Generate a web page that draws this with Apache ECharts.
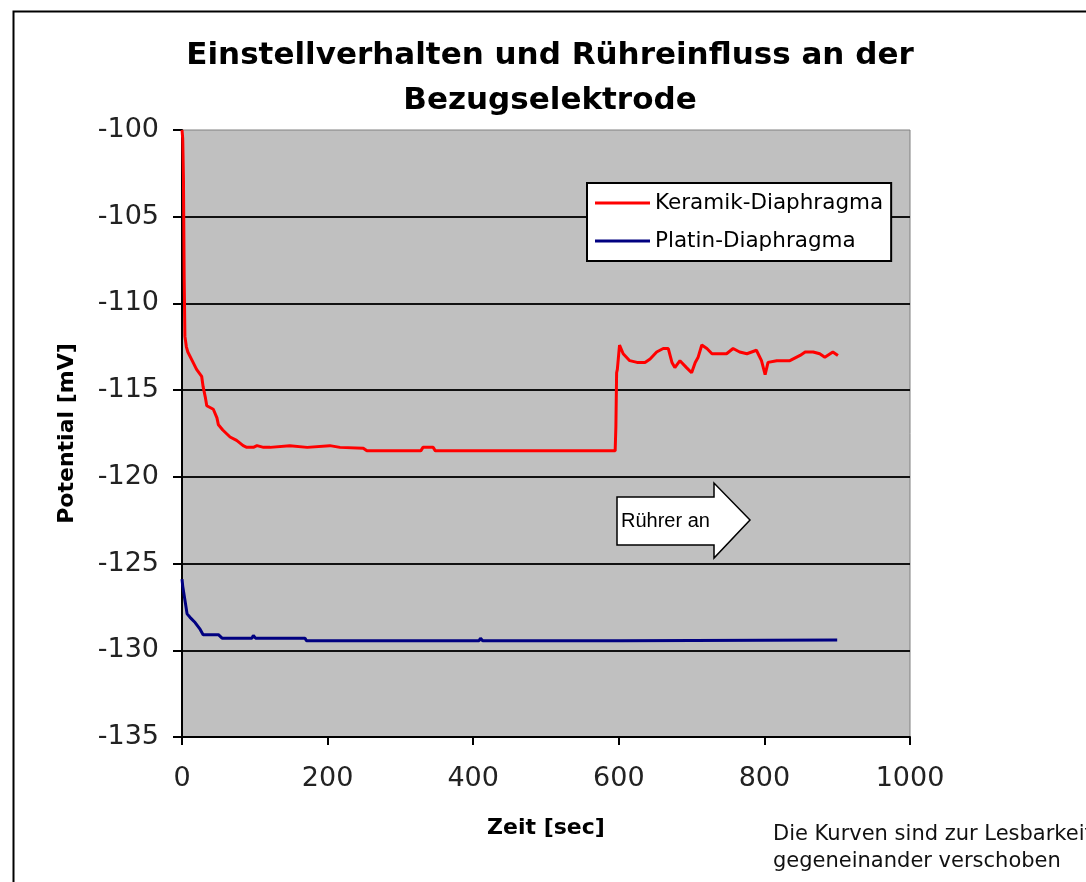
<!DOCTYPE html>
<html>
<head>
<meta charset="utf-8">
<script src="https://cdn.jsdelivr.net/npm/echarts@6/dist/echarts.min.js"></script>
<style>
  html, body { margin: 0; padding: 0; background: #fff; }
  #chart { width: 1086px; height: 882px; }
</style>
</head>
<body>
<div id="chart"></div>
<script>
// Zeit [sec] / Potential [mV]
const keramik = [
  [0, -100], [1, -100.5], [2, -102.8], [3, -108.6], [4, -111.9], [6, -112.5],
  [8, -112.8], [14, -113.3], [20, -113.8], [27, -114.2], [29, -114.8], [32, -115.4],
  [34, -115.9], [43, -116.1], [48, -116.6], [50, -117.0], [56, -117.3], [66, -117.7],
  [75, -117.9], [84, -118.2], [89, -118.3], [98, -118.3], [103, -118.2], [112, -118.3],
  [121, -118.3], [148, -118.2], [172, -118.3], [203, -118.2], [217, -118.3],
  [249, -118.35], [254, -118.5], [328, -118.5], [331, -118.3], [345, -118.3],
  [348, -118.5], [595, -118.5], [596, -117.1], [597, -114.0], [598, -113.8],
  [601, -112.4], [606, -112.9], [615, -113.3], [625, -113.4], [636, -113.4],
  [643, -113.2], [652, -112.8], [661, -112.6], [668, -112.6], [673, -113.4],
  [677, -113.7], [684, -113.3], [693, -113.7], [700, -114.0], [705, -113.4],
  [709, -113.1], [714, -112.4], [721, -112.6], [728, -112.9], [739, -112.9],
  [748, -112.9], [757, -112.6], [766, -112.8], [776, -112.9], [789, -112.7],
  [796, -113.3], [801, -114.1], [805, -113.4], [817, -113.3], [835, -113.3],
  [849, -113.0], [856, -112.8], [867, -112.8], [876, -112.9], [883, -113.1],
  [894, -112.8], [901, -113.0]
]
const platin = [
  [0, -125.9], [1, -126.3], [4, -127.1], [7, -127.9], [11, -128.1], [18, -128.4],
  [25, -128.8], [29, -129.1], [50, -129.1], [55, -129.3], [76, -129.3], [78, -129.2],
  [80, -129.3], [96, -129.3], [98, -129.15], [101, -129.3], [128, -129.3],
  [130, -129.2], [132, -129.3], [169, -129.3], [171, -129.45], [176, -129.45],
  [178, -129.35], [180, -129.45], [408, -129.45], [410, -129.3], [413, -129.45],
  [598, -129.45], [600, -129.35], [603, -129.45], [900, -129.4]
]
const xTicks = { min: 0, max: 1000, interval: 200 }
const yTicks = { min: -135, max: -100, interval: 5 }

const chart = echarts.init(document.getElementById('chart'))

chart.setOption({
  backgroundColor: '#ffffff',
  animation: false,
  title: {
    text: 'Einstellverhalten und Rühreinfluss an der\nBezugselektrode',
    left: 545,
    top: 28,
    textAlign: 'center',
    textStyle: {
      fontFamily: 'DejaVu Sans',
      fontSize: 31,
      fontWeight: 'bold',
      color: '#000',
      lineHeight: 45
    }
  },
  grid: {
    left: 182,
    right: 176,
    top: 130,
    bottom: 145,
    show: true,
    backgroundColor: '#c0c0c0',
    borderColor: '#808080',
    borderWidth: 1
  },
  legend: {
    orient: 'vertical',
    left: 587,
    top: 183,
    padding: [8, 8, 8, 8],
    icon: 'rect',
    itemWidth: 55,
    itemHeight: 3,
    itemGap: 14,
    backgroundColor: '#fff',
    borderColor: '#000',
    borderWidth: 2,
    textStyle: {
      fontFamily: 'DejaVu Sans',
      fontSize: 21.5,
      lineHeight: 24,
      color: '#000'
    },
    data: ['Keramik-Diaphragma', 'Platin-Diaphragma']
  },
  xAxis: {
    type: 'value',
    min: xTicks.min,
    max: xTicks.max,
    interval: xTicks.interval,
    name: 'Zeit [sec]',
    nameLocation: 'middle',
    nameGap: 80,
    nameTextStyle: {
      fontFamily: 'DejaVu Sans',
      fontWeight: 'bold',
      fontSize: 22,
      color: '#000'
    },
    axisLine: { show: true, onZero: false, lineStyle: { color: '#000', width: 2 } },
    axisTick: { show: true, length: 8, lineStyle: { color: '#000', width: 2 } },
    axisLabel: {
      margin: 28,
      fontFamily: 'DejaVu Sans',
      fontSize: 27,
      color: '#222',
      formatter: v => String(v)
    },
    splitLine: { show: false }
  },
  yAxis: {
    type: 'value',
    min: yTicks.min,
    max: yTicks.max,
    interval: yTicks.interval,
    name: 'Potential [mV]',
    nameLocation: 'middle',
    nameRotate: 90,
    nameGap: 104,
    nameTextStyle: {
      fontFamily: 'DejaVu Sans',
      fontWeight: 'bold',
      fontSize: 22,
      color: '#000'
    },
    axisLine: { show: true, onZero: false, lineStyle: { color: '#000', width: 2 } },
    axisTick: { show: true, length: 9, lineStyle: { color: '#000', width: 2 } },
    axisLabel: {
      margin: 23,
      fontFamily: 'DejaVu Sans',
      fontSize: 27,
      color: '#222'
    },
    splitLine: {
      show: true,
      showMinLine: false,
      showMaxLine: false,
      lineStyle: { color: '#111', width: 2 }
    }
  },
  series: [
    {
      name: 'Keramik-Diaphragma',
      type: 'line',
      data: keramik,
      showSymbol: false,
      symbol: 'none',
      lineStyle: { color: '#ff0000', width: 3 },
      itemStyle: { color: '#ff0000' },
      z: 3
    },
    {
      name: 'Platin-Diaphragma',
      type: 'line',
      data: platin,
      showSymbol: false,
      symbol: 'none',
      lineStyle: { color: '#000080', width: 3 },
      itemStyle: { color: '#000080' },
      z: 3
    }
  ],
  graphic: [
    {
      // Rahmen um das Diagramm
      type: 'rect',
      left: 11,
      top: 9,
      shape: { width: 1100, height: 900 },
      style: { fill: 'none', stroke: '#000', lineWidth: 2 },
      silent: true
    },
    {
      // Pfeil "Rührer an"
      type: 'polygon',
      shape: {
        points: [[617, 497], [714, 497], [714, 483], [750, 520], [714, 558], [714, 545], [617, 545]]
      },
      style: { fill: '#fff', stroke: '#000', lineWidth: 1.5 },
      z: 10
    },
    {
      type: 'text',
      x: 621,
      y: 521,
      style: {
        text: 'Rührer an',
        font: '20px "Liberation Sans"',
        fill: '#000',
        verticalAlign: 'middle'
      },
      z: 11
    },
    {
      type: 'text',
      x: 773,
      y: 821,
      style: {
        text: 'Die Kurven sind zur Lesbarkeit\ngegeneinander verschoben',
        font: '21px "DejaVu Sans"',
        lineHeight: 27,
        fill: '#111'
      },
      z: 11
    }
  ]
})
</script>
</body>
</html>
